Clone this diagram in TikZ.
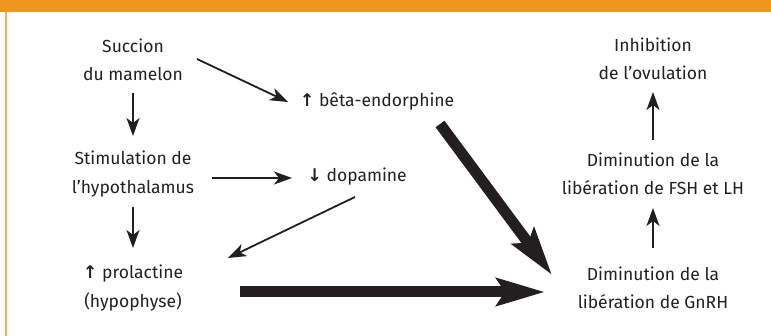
\documentclass[tikz,border=0pt]{standalone}
\usepackage{fontspec}
\setmainfont{Fira Sans}
\newfontfamily\arrowfont{DejaVu Sans}
\usetikzlibrary{arrows.meta}
\definecolor{barorange}{HTML}{EE961E}
\definecolor{lineorange}{HTML}{F4B158}
\definecolor{txt}{HTML}{231F20}
\tikzset{
  lbl/.style={align=center, inner sep=0pt, text=txt, font=\fontsize{17.5}{28.5}\selectfont},
  thin/.style={draw=txt, line width=1.8pt, -{Stealth[length=18pt,width=13pt,inset=5pt]}},
  thick/.style={draw=txt, line width=11pt, -{Stealth[length=48pt,width=27pt,inset=8pt]}},
}
\newcommand{\upar}{{\arrowfont\bfseries\char"2191}}
\newcommand{\dnar}{{\arrowfont\bfseries\char"2193}}
\begin{document}
\begin{tikzpicture}[x=1pt,y=-1pt]
\useasboundingbox (0,0) rectangle (771,336);
\fill[barorange] (0,0) rectangle (771,12);
\fill[lineorange] (5,12) rectangle (6.5,336);

\node[lbl] (succ)  at (133,60)  {Succion\\du mamelon};
\node[lbl] (inhib) at (653,59)  {Inhibition\\de l'ovulation};
\node[lbl] (beta)  at (377,101) {\upar\ bêta-endorphine};
\node[lbl] (stim)  at (133,174) {Stimulation de\\l'hypothalamus};
\node[lbl] (dopa)  at (357,177) {\dnar\ dopamine};
\node[lbl] (fsh)   at (653,174) {Diminution de la\\libération de FSH et LH};
\node[lbl] (prol)  at (133,288) {\upar\ prolactine\\(hypophyse)};
\node[lbl] (gnrh)  at (653,288) {Diminution de la\\libération de GnRH};

\draw[thin] ([shift={(64,-1)}]succ.center) -- ([shift={(-89,1)}]beta.center);
\draw[thin] ([shift={(0,33)}]succ.center) -- ([shift={(0,-38)}]stim.center);
\draw[thin] ([shift={(79,4)}]stim.center) -- ([shift={(-65,1)}]dopa.center);
\draw[thin] ([shift={(0,33)}]stim.center) -- ([shift={(0,-40)}]prol.center);
\draw[thin] ([shift={(-2,20)}]dopa.center) -- ([shift={(95,-30)}]prol.center);
\draw[thick] ([shift={(63,23)}]beta.center) -- ([shift={(-101,-13)}]gnrh.center);
\draw[thick] ([shift={(107,4)}]prol.center) -- ([shift={(-108,4)}]gnrh.center);
\draw[thin] ([shift={(0,-40)}]gnrh.center) -- ([shift={(0,34)}]fsh.center);
\draw[thin] ([shift={(0,-34)}]fsh.center) -- ([shift={(0,33)}]inhib.center);
\end{tikzpicture}
\end{document}
